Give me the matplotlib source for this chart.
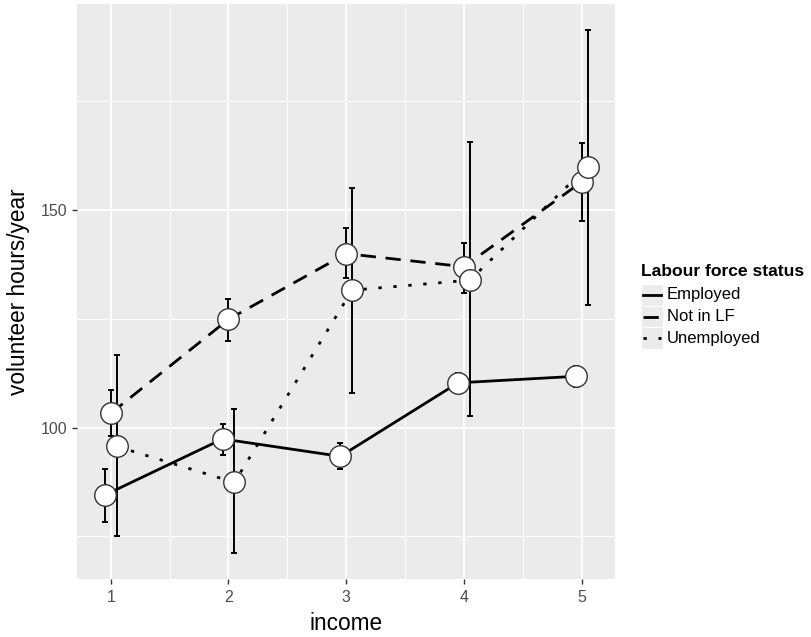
import matplotlib
matplotlib.use("Agg")
import matplotlib.pyplot as plt
from matplotlib.lines import Line2D
from matplotlib.patches import Rectangle
import numpy as np

plt.rcParams['font.family'] = ['Liberation Sans', 'DejaVu Sans']

income = [1, 2, 3, 4, 5]
groups = ["Employed", "Not in LF", "Unemployed"]
dodge = [-0.05, 0.0, 0.05]

employed_mean = [84.5, 97.4, 93.4, 110.3, 111.8]
employed_lo   = [78.2, 93.7, 90.6, 108.0, 109.4]
employed_hi   = [90.5, 100.8, 96.4, 112.6, 114.2]

notlf_mean = [103.3, 124.9, 140.0, 137.0, 156.5]
notlf_lo   = [98.0, 119.9, 134.3, 130.9, 147.5]
notlf_hi   = [108.6, 129.5, 145.9, 142.5, 165.5]

unemp_mean = [95.7, 87.4, 131.6, 133.9, 160.0]
unemp_lo   = [75.1, 71.1, 107.9, 102.6, 128.3]
unemp_hi   = [116.6, 104.2, 155.2, 165.7, 191.4]

y_ticks = [100, 150]
y_minor = [75, 125, 175]
x_minor = [1.5, 2.5, 3.5, 4.5]

means = [employed_mean, notlf_mean, unemp_mean]
los = [employed_lo, notlf_lo, unemp_lo]
his = [employed_hi, notlf_hi, unemp_hi]
styles = ['-', (0, (5.5, 3.5)), (0, (1.2, 4.2))]

W, H = 812, 637
fig = plt.figure(figsize=(W / 100, H / 100), dpi=100)
fig.patch.set_facecolor('white')
ax = fig.add_axes([76.7 / W, 1 - 579 / H, (615 - 76.7) / W, (579 - 4) / H])
ax.set_facecolor('#EBEBEB')
for s in ax.spines.values():
    s.set_visible(False)

ax.set_xlim(0.711, 5.283)
ax.set_ylim(65.2, 197.4)
ax.set_xticks(income)
ax.set_xticks(x_minor, minor=True)
ax.set_yticks(y_ticks)
ax.set_yticks(y_minor, minor=True)
ax.grid(which='major', color='white', lw=1.3)
ax.grid(which='minor', color='white', lw=0.7)
ax.set_axisbelow(True)
ax.tick_params(which='major', length=3.5, width=1.0, color='#333333',
               labelcolor='#4D4D4D', labelsize=11.5)
ax.tick_params(axis='x', which='major', pad=4.5)
ax.tick_params(axis='y', which='major', pad=3)
ax.tick_params(which='minor', length=0)

for i in range(3):
    xs = np.array(income) + dodge[i]
    m = np.array(means[i])
    lo = np.array(los[i])
    hi = np.array(his[i])
    ax.plot(xs, m, color='black', lw=2.0, linestyle=styles[i], zorder=3)
    ax.errorbar(xs, m, yerr=[m - lo, hi - m], fmt='none', ecolor='black',
                elinewidth=1.4, capsize=2.2, capthick=1.4, zorder=4)
for i in range(3):
    xs = np.array(income) + dodge[i]
    ax.plot(xs, means[i], linestyle='none', marker='o', ms=15.5,
            markerfacecolor='white', markeredgecolor='#333333', mew=1.0, zorder=5)

ax.set_xlabel('income', fontsize=16.3, labelpad=5)
ax.set_ylabel('volunteer hours/year', fontsize=16.3, labelpad=8)

# legend
def fx(px):
    return px / W

def fy(py):
    return 1 - py / H

fig.text(fx(641.5), fy(271.7), 'Labour force status', fontsize=12.6,
         fontweight='bold', va='center', ha='left')
key_centers = [295.0, 316.7, 338.3]
for i, g in enumerate(groups):
    yc = key_centers[i]
    fig.patches.append(Rectangle((fx(641.3), fy(yc + 10.85)), 22.0 / W, 21.7 / H,
                                 transform=fig.transFigure, facecolor='#EBEBEB',
                                 edgecolor='white', lw=0.8))
    fig.lines.append(Line2D([fx(643), fx(661)], [fy(yc), fy(yc)],
                            transform=fig.transFigure, color='black', lw=2.0,
                            linestyle=styles[i]))
    fig.text(fx(666.7), fy(yc), g, fontsize=12, va='center', ha='left',
             color='black')

fig.savefig('out.png', dpi=100)
